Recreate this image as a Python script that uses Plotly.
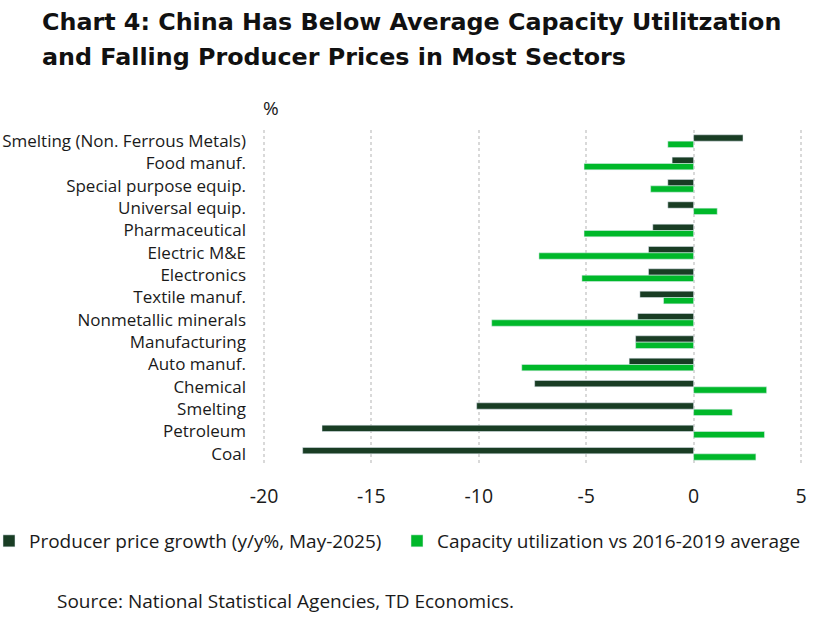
import plotly.graph_objects as go

categories = [
    "Smelting (Non. Ferrous Metals)", "Food manuf.", "Special purpose equip.",
    "Universal equip.", "Pharmaceutical", "Electric M&E", "Electronics",
    "Textile manuf.", "Nonmetallic minerals", "Manufacturing", "Auto manuf.",
    "Chemical", "Smelting", "Petroleum", "Coal",
]
ppi_growth = [2.3, -1.0, -1.2, -1.2, -1.9, -2.1, -2.1, -2.5, -2.6, -2.7, -3.0, -7.4, -10.1, -17.3, -18.2]
capacity_util = [-1.2, -5.1, -2.0, 1.1, -5.1, -7.2, -5.2, -1.4, -9.4, -2.7, -8.0, 3.4, 1.8, 3.3, 2.9]
x_ticks = [-20, -15, -10, -5, 0, 5]
x_tick_labels = [str(v) for v in x_ticks]
title_lines = [
    "Chart 4: China Has Below Average Capacity Utilitzation",
    "and Falling Producer Prices in Most Sectors",
]

FONT = "Open Sans"
TITLE_FONT = "DejaVu Sans"
DARK = "#193d24"
GREEN = "#00b82a"
W, H = 827, 617
# axis -20 at x=264 px, 5 at x=801 px; plot area extended a little beyond
L, R, T, B = 259, 0, 130, 152
PW, PH = W - L - R, H - T - B
X0, X_AT_5 = 264, 801
UNIT = (X_AT_5 - X0) / 25.0
x_range = [-20 - (X0 - L) / UNIT, 5 + (W - R - X_AT_5) / UNIT]

def px_x(p):
    return (p - L) / PW

def px_y(p):
    return (H - B - p) / PH

fig = go.Figure()
fig.add_trace(go.Bar(
    y=categories, x=ppi_growth, orientation="h",
    name="Producer price growth (y/y%, May-2025)", marker_color=DARK,
))
fig.add_trace(go.Bar(
    y=categories, x=capacity_util, orientation="h",
    name="Capacity utilization vs 2016-2019 average", marker_color=GREEN,
))

fig.update_layout(
    width=W, height=H,
    margin=dict(l=L, r=R, t=T, b=B, autoexpand=False),
    paper_bgcolor="white", plot_bgcolor="white",
    barmode="group", bargap=0.43, bargroupgap=0,
    font=dict(family=FONT, size=15, color="#1a1a1a"),
    legend=dict(
        orientation="h", xref="paper", yref="paper",
        x=px_x(-11), xanchor="left", y=px_y(541), yanchor="middle",
        font=dict(family=FONT, size=19, color="#1a1a1a"),
        itemwidth=30, traceorder="normal",
        entrywidth=363, entrywidthmode="pixels",
    ),
    showlegend=True,
)
fig.update_xaxes(
    range=x_range, tickvals=x_ticks, ticktext=x_tick_labels,
    showgrid=True, gridcolor="#d9d9d9",
    gridwidth=1.5, griddash="dot", zeroline=False, showline=False,
    ticks="", ticklabelstandoff=17, tickfont=dict(size=19.5), automargin=False,
)
fig.update_yaxes(
    autorange="reversed", showgrid=False, showline=False, ticks="",
    ticklabelstandoff=12, tickfont=dict(size=17), automargin=False,
)
for line, yc in zip(title_lines, [22, 57]):
    fig.add_annotation(
        text="<b>" + line + "</b>",
        xref="paper", yref="paper", x=px_x(40), y=px_y(yc), xanchor="left", yanchor="middle",
        align="left", showarrow=False,
        font=dict(family=TITLE_FONT, size=23.8, color="#111111"),
    )
fig.add_annotation(
    text="%", xref="paper", yref="paper", x=px_x(261), y=px_y(108), xanchor="left",
    yanchor="middle", showarrow=False, font=dict(family=FONT, size=19),
)
fig.add_annotation(
    text="Source: National Statistical Agencies, TD Economics.", xref="paper",
    yref="paper", x=px_x(55), y=px_y(601), xanchor="left", yanchor="middle", showarrow=False,
    font=dict(family=FONT, size=19),
)
fig.write_html(
    "out.html",
    config={"displayModeBar": False},
    post_script="document.body.style.margin='0px';",
)
